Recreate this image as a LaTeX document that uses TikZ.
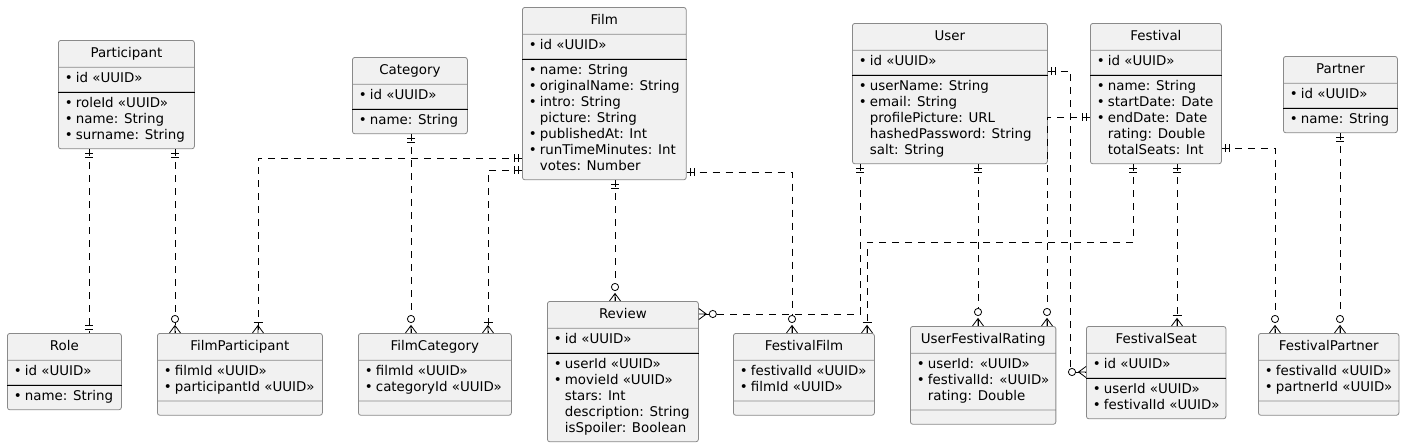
\documentclass[tikz,border=0pt]{standalone}
\usepackage{fontspec}
\setmainfont{DejaVu Sans}
\usepackage{tikz}
\usetikzlibrary{shapes}
\usetikzlibrary{decorations.markings}

\definecolor{boxfill}{HTML}{F1F1F1}
\definecolor{boxline}{HTML}{8A8A8A}

\newcommand{\mand}{\makebox[11pt][l]{•}}
\newcommand{\optl}{\hspace*{11pt}}
\newcommand{\fields}[1]{\begin{tabular}{@{}l@{}}#1\end{tabular}}
\newcommand{\etitle}[1]{\rule[-5pt]{0pt}{18pt}#1}

\tikzset{
    entity/.style={rectangle split, rectangle split parts=3,
        rectangle split part align={center,left,left},
        draw=boxline, fill=boxfill, rounded corners=2.5pt, line width=0.8pt,
        inner xsep=6.5pt, inner ysep=4pt, anchor=north west,
        font=\fontsize{13.4}{16}\selectfont},
    rel/.style={draw, line width=0.8pt, dash pattern=on 7pt off 6pt},
    onestart/.style={postaction={decorate, decoration={markings,
        mark=at position 4pt with {\draw[solid] (0pt,-4pt) -- (0pt,4pt);},
        mark=at position 8pt with {\draw[solid] (0pt,-4pt) -- (0pt,4pt);}}}},
    oneend/.style={postaction={decorate, decoration={markings,
        mark=at position -4pt with {\draw[solid] (0pt,-4pt) -- (0pt,4pt);},
        mark=at position -8pt with {\draw[solid] (0pt,-4pt) -- (0pt,4pt);}}}},
    zeromany/.style={postaction={decorate, decoration={markings,
        mark=at position -7.5pt with {\draw[solid] (7.5pt,-5.5pt) -- (0pt,0pt) -- (7.5pt,5.5pt) (0pt,0pt) -- (7.5pt,0pt);},
        mark=at position -14pt with {\draw[solid, fill=white] (0pt,0pt) circle (3.6pt);}}}},
    onemany/.style={postaction={decorate, decoration={markings,
        mark=at position -7.5pt with {\draw[solid] (7.5pt,-5.5pt) -- (0pt,0pt) -- (7.5pt,5.5pt) (0pt,0pt) -- (7.5pt,0pt);},
        mark=at position -10.5pt with {\draw[solid] (0pt,-4.5pt) -- (0pt,4.5pt);}}}}
}

\begin{document}
\begin{tikzpicture}[x=1pt, y=-1pt]
    \useasboundingbox (0,0) rectangle (1418,447);

    % top row
    \node[entity, minimum width=136pt] (participant) at (58,40) {\etitle{Participant}
        \nodepart{two}\fields{\mand id «UUID»}
        \nodepart{three}\fields{\mand roleId «UUID»\\ \mand name: String\\ \mand surname: String}};
    \node[entity, minimum width=115pt] (category) at (352,57) {\etitle{Category}
        \nodepart{two}\fields{\mand id «UUID»}
        \nodepart{three}\fields{\mand name: String}};
    \node[entity, minimum width=163pt] (film) at (522,7) {\etitle{Film}
        \nodepart{two}\fields{\mand id «UUID»}
        \nodepart{three}\fields{\mand name: String\\ \mand originalName: String\\ \mand intro: String\\
            \optl picture: String\\ \mand publishedAt: Int\\ \mand runTimeMinutes: Int\\ \optl votes: Number}};
    \node[entity, minimum width=195pt] (user) at (852,23) {\etitle{User}
        \nodepart{two}\fields{\mand id «UUID»}
        \nodepart{three}\fields{\mand userName: String\\ \mand email: String\\ \optl profilePicture: URL\\
            \optl hashedPassword: String\\ \optl salt: String}};
    \node[entity, minimum width=131pt] (festival) at (1090,23) {\etitle{Festival}
        \nodepart{two}\fields{\mand id «UUID»}
        \nodepart{three}\fields{\mand name: String\\ \mand startDate: Date\\ \mand endDate: Date\\
            \optl rating: Double\\ \optl totalSeats: Int}};
    \node[entity, minimum width=114pt] (partner) at (1283,56) {\etitle{Partner}
        \nodepart{two}\fields{\mand id «UUID»}
        \nodepart{three}\fields{\mand name: String}};

    % bottom row
    \node[entity, minimum width=114pt] (role) at (7,333) {\etitle{Role}
        \nodepart{two}\fields{\mand id «UUID»}
        \nodepart{three}\fields{\mand name: String}};
    \node[entity, minimum width=165pt] (filmparticipant) at (157,333) {\etitle{FilmParticipant}
        \nodepart{two}\fields{\mand filmId «UUID»\\ \mand participantId «UUID»}
        \nodepart{three}};
    \node[entity, minimum width=153pt] (filmcategory) at (358,333) {\etitle{FilmCategory}
        \nodepart{two}\fields{\mand filmId «UUID»\\ \mand categoryId «UUID»}
        \nodepart{three}};
    \node[entity, minimum width=151pt] (review) at (547,301) {\etitle{Review}
        \nodepart{two}\fields{\mand id «UUID»}
        \nodepart{three}\fields{\mand userId «UUID»\\ \mand movieId «UUID»\\ \optl stars: Int\\
            \optl description: String\\ \optl isSpoiler: Boolean}};
    \node[entity, minimum width=141pt] (festivalfilm) at (733,333) {\etitle{FestivalFilm}
        \nodepart{two}\fields{\mand festivalId «UUID»\\ \mand filmId «UUID»}
        \nodepart{three}};
    \node[entity, minimum width=141pt] (userfestivalrating) at (910,326) {\etitle{UserFestivalRating}
        \nodepart{two}\fields{\mand userId: «UUID»\\ \mand festivalId: «UUID»\\ \optl rating: Double}
        \nodepart{three}};
    \node[entity, minimum width=136pt] (festivalseat) at (1086,326) {\etitle{FestivalSeat}
        \nodepart{two}\fields{\mand id «UUID»}
        \nodepart{three}\fields{\mand userId «UUID»\\ \mand festivalId «UUID»}};
    \node[entity, minimum width=139pt] (festivalpartner) at (1258,333) {\etitle{FestivalPartner}
        \nodepart{two}\fields{\mand festivalId «UUID»\\ \mand partnerId «UUID»}
        \nodepart{three}};

    % key separators
    \foreach \e in {participant,category,film,user,festival,partner,role,review,festivalseat}
        \draw[line width=0.8pt] (\e.two split west) -- (\e.two split east);

    % relations
    \draw[rel, onestart, oneend] ([xshift=31pt]participant.south west) -- ([xshift=82pt]role.north west);
    \draw[rel, onestart, zeromany] ([xshift=117pt]participant.south west) -- ([xshift=18pt]filmparticipant.north west);
    \draw[rel, onestart, onemany] ([yshift=-151pt]film.north west) -| ([xshift=101pt]filmparticipant.north west);
    \draw[rel, onestart, zeromany] ([xshift=59pt]category.south west) -- ([xshift=53pt]filmcategory.north west);
    \draw[rel, onestart, onemany] ([yshift=-163pt]film.north west) -| ([xshift=130pt]filmcategory.north west);
    \draw[rel, onestart, zeromany] ([xshift=93pt]film.south west) -- ([xshift=68pt]review.north west);
    \draw[rel, onestart, zeromany] ([yshift=-165pt]film.north east) -| ([xshift=59pt]festivalfilm.north west);
    \draw[rel, onestart, zeromany] ([xshift=8pt]user.south west) |- ([yshift=-13pt]review.north east);
    \draw[rel, onestart, onemany] ([xshift=43pt]festival.south west) -- ++(0,78) -| ([xshift=134pt]festivalfilm.north west);
    \draw[rel, onestart, zeromany] ([xshift=126pt]user.south west) -- ([xshift=68pt]userfestivalrating.north west);
    \draw[rel, onestart, zeromany] ([yshift=-94pt]festival.north west) -| ([xshift=137pt]userfestivalrating.north west);
    \draw[rel, onestart, zeromany] ([yshift=-48pt]user.north east) -- ++(23,0) |- ([yshift=-46pt]festivalseat.north west);
    \draw[rel, onestart, onemany] ([xshift=87pt]festival.south west) -- ([xshift=91pt]festivalseat.north west);
    \draw[rel, onestart, zeromany] ([yshift=-125pt]festival.north east) -| ([xshift=17pt]festivalpartner.north west);
    \draw[rel, onestart, zeromany] ([xshift=57pt]partner.south west) -- ([xshift=82pt]festivalpartner.north west);
\end{tikzpicture}
\end{document}
